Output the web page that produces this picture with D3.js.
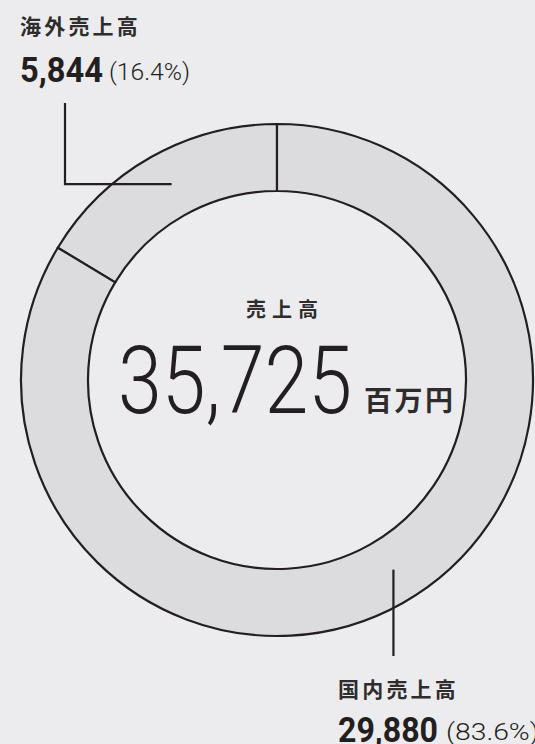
<!DOCTYPE html>
<html>
<head>
<meta charset="utf-8">
<script src="https://cdn.jsdelivr.net/npm/d3@7"></script>
<style>
  html, body { margin: 0; padding: 0; background: #ececee; }
  svg { display: block; }
  .jp { font-family: "Noto Sans CJK JP", sans-serif; font-weight: 700; fill: #2e2c2d; }
  .num { font-family: Roboto, sans-serif; fill: #231f20; }
</style>
</head>
<body>
<svg id="chart" width="535" height="744"></svg>
<script>
// Sales breakdown (millions of yen)
const categories = ["海外売上高", "国内売上高"];
const values = [5844, 29880];
const shares = ["16.4%", "83.6%"];
const totalLabel = "売上高";
const totalValue = 35725;
const unitLabel = "百万円";

const W = 535, H = 744;
const cx = 277, cy = 380;
const outerR = 256, innerR = 189;
const ink = "#231f20";

const svg = d3.select("#chart");
svg.append("rect").attr("width", W).attr("height", H).attr("fill", "#ececee");

// Slices run counter-clockwise from 12 o'clock
const pie = d3.pie().sort(null).startAngle(0).endAngle(-2 * Math.PI);
const arcs = pie(values);
const arc = d3.arc().innerRadius(innerR).outerRadius(outerR);

const g = svg.append("g").attr("transform", `translate(${cx},${cy})`);
g.selectAll("path.slice")
  .data(arcs)
  .join("path")
  .attr("class", "slice")
  .attr("d", arc)
  .attr("fill", "#dcdcde")
  .attr("stroke", ink)
  .attr("stroke-width", 2.2)
  .attr("stroke-linejoin", "miter");

// Leader anchors on the ring midline
const midR = (innerR + outerR) / 2;
const anchorFrac = [0.48, 0.507];
function anchor(d, f) {
  const a = d.startAngle + (d.endAngle - d.startAngle) * f;
  return [cx + midR * Math.sin(a), cy - midR * Math.cos(a)];
}
const fmt = d3.format(",");

// Overseas: elbow leader up to the top-left label
const pA = anchor(arcs[0], anchorFrac[0]);
svg.append("path")
  .attr("d", `M${pA[0]},${pA[1]}H65V103`)
  .attr("fill", "none").attr("stroke", ink).attr("stroke-width", 2.2);

svg.append("text").attr("class", "jp")
  .attr("x", 20).attr("y", 34)
  .attr("font-size", 21).attr("letter-spacing", 3.2)
  .text(categories[0]);
svg.append("text").attr("class", "num")
  .attr("x", 20).attr("y", 82)
  .attr("font-size", 35).attr("font-weight", 700)
  .attr("textLength", 83).attr("lengthAdjust", "spacingAndGlyphs")
  .text(fmt(values[0]));
svg.append("text").attr("class", "num")
  .attr("x", 109).attr("y", 80)
  .attr("font-size", 24).attr("font-weight", 300)
  .attr("textLength", 81).attr("lengthAdjust", "spacingAndGlyphs")
  .text(`(${shares[0]})`);

// Domestic: straight leader down to the bottom-right label
const pB = anchor(arcs[1], anchorFrac[1]);
svg.append("line")
  .attr("x1", pB[0]).attr("y1", pB[1])
  .attr("x2", pB[0]).attr("y2", 656)
  .attr("stroke", ink).attr("stroke-width", 2.2);

svg.append("text").attr("class", "jp")
  .attr("x", 338).attr("y", 697)
  .attr("font-size", 21).attr("letter-spacing", 3.2)
  .text(categories[1]);
svg.append("text").attr("class", "num")
  .attr("x", 338).attr("y", 742)
  .attr("font-size", 35).attr("font-weight", 700)
  .attr("textLength", 100).attr("lengthAdjust", "spacingAndGlyphs")
  .text(fmt(values[1]));
svg.append("text").attr("class", "num")
  .attr("x", 446).attr("y", 740)
  .attr("font-size", 24).attr("font-weight", 300)
  .attr("textLength", 93).attr("lengthAdjust", "spacingAndGlyphs")
  .text(`(${shares[1]})`);

// Centre total
svg.append("text").attr("class", "jp")
  .attr("x", 246).attr("y", 317)
  .attr("font-size", 20).attr("letter-spacing", 6)
  .text(totalLabel);
svg.append("text").attr("class", "num")
  .attr("x", 118).attr("y", 413)
  .attr("font-size", 94).attr("font-weight", 300)
  .attr("textLength", 234).attr("lengthAdjust", "spacingAndGlyphs")
  .text(fmt(totalValue));
svg.append("text").attr("class", "jp")
  .attr("x", 364).attr("y", 411)
  .attr("font-size", 28).attr("letter-spacing", 2.5)
  .text(unitLabel);
</script>
</body>
</html>
